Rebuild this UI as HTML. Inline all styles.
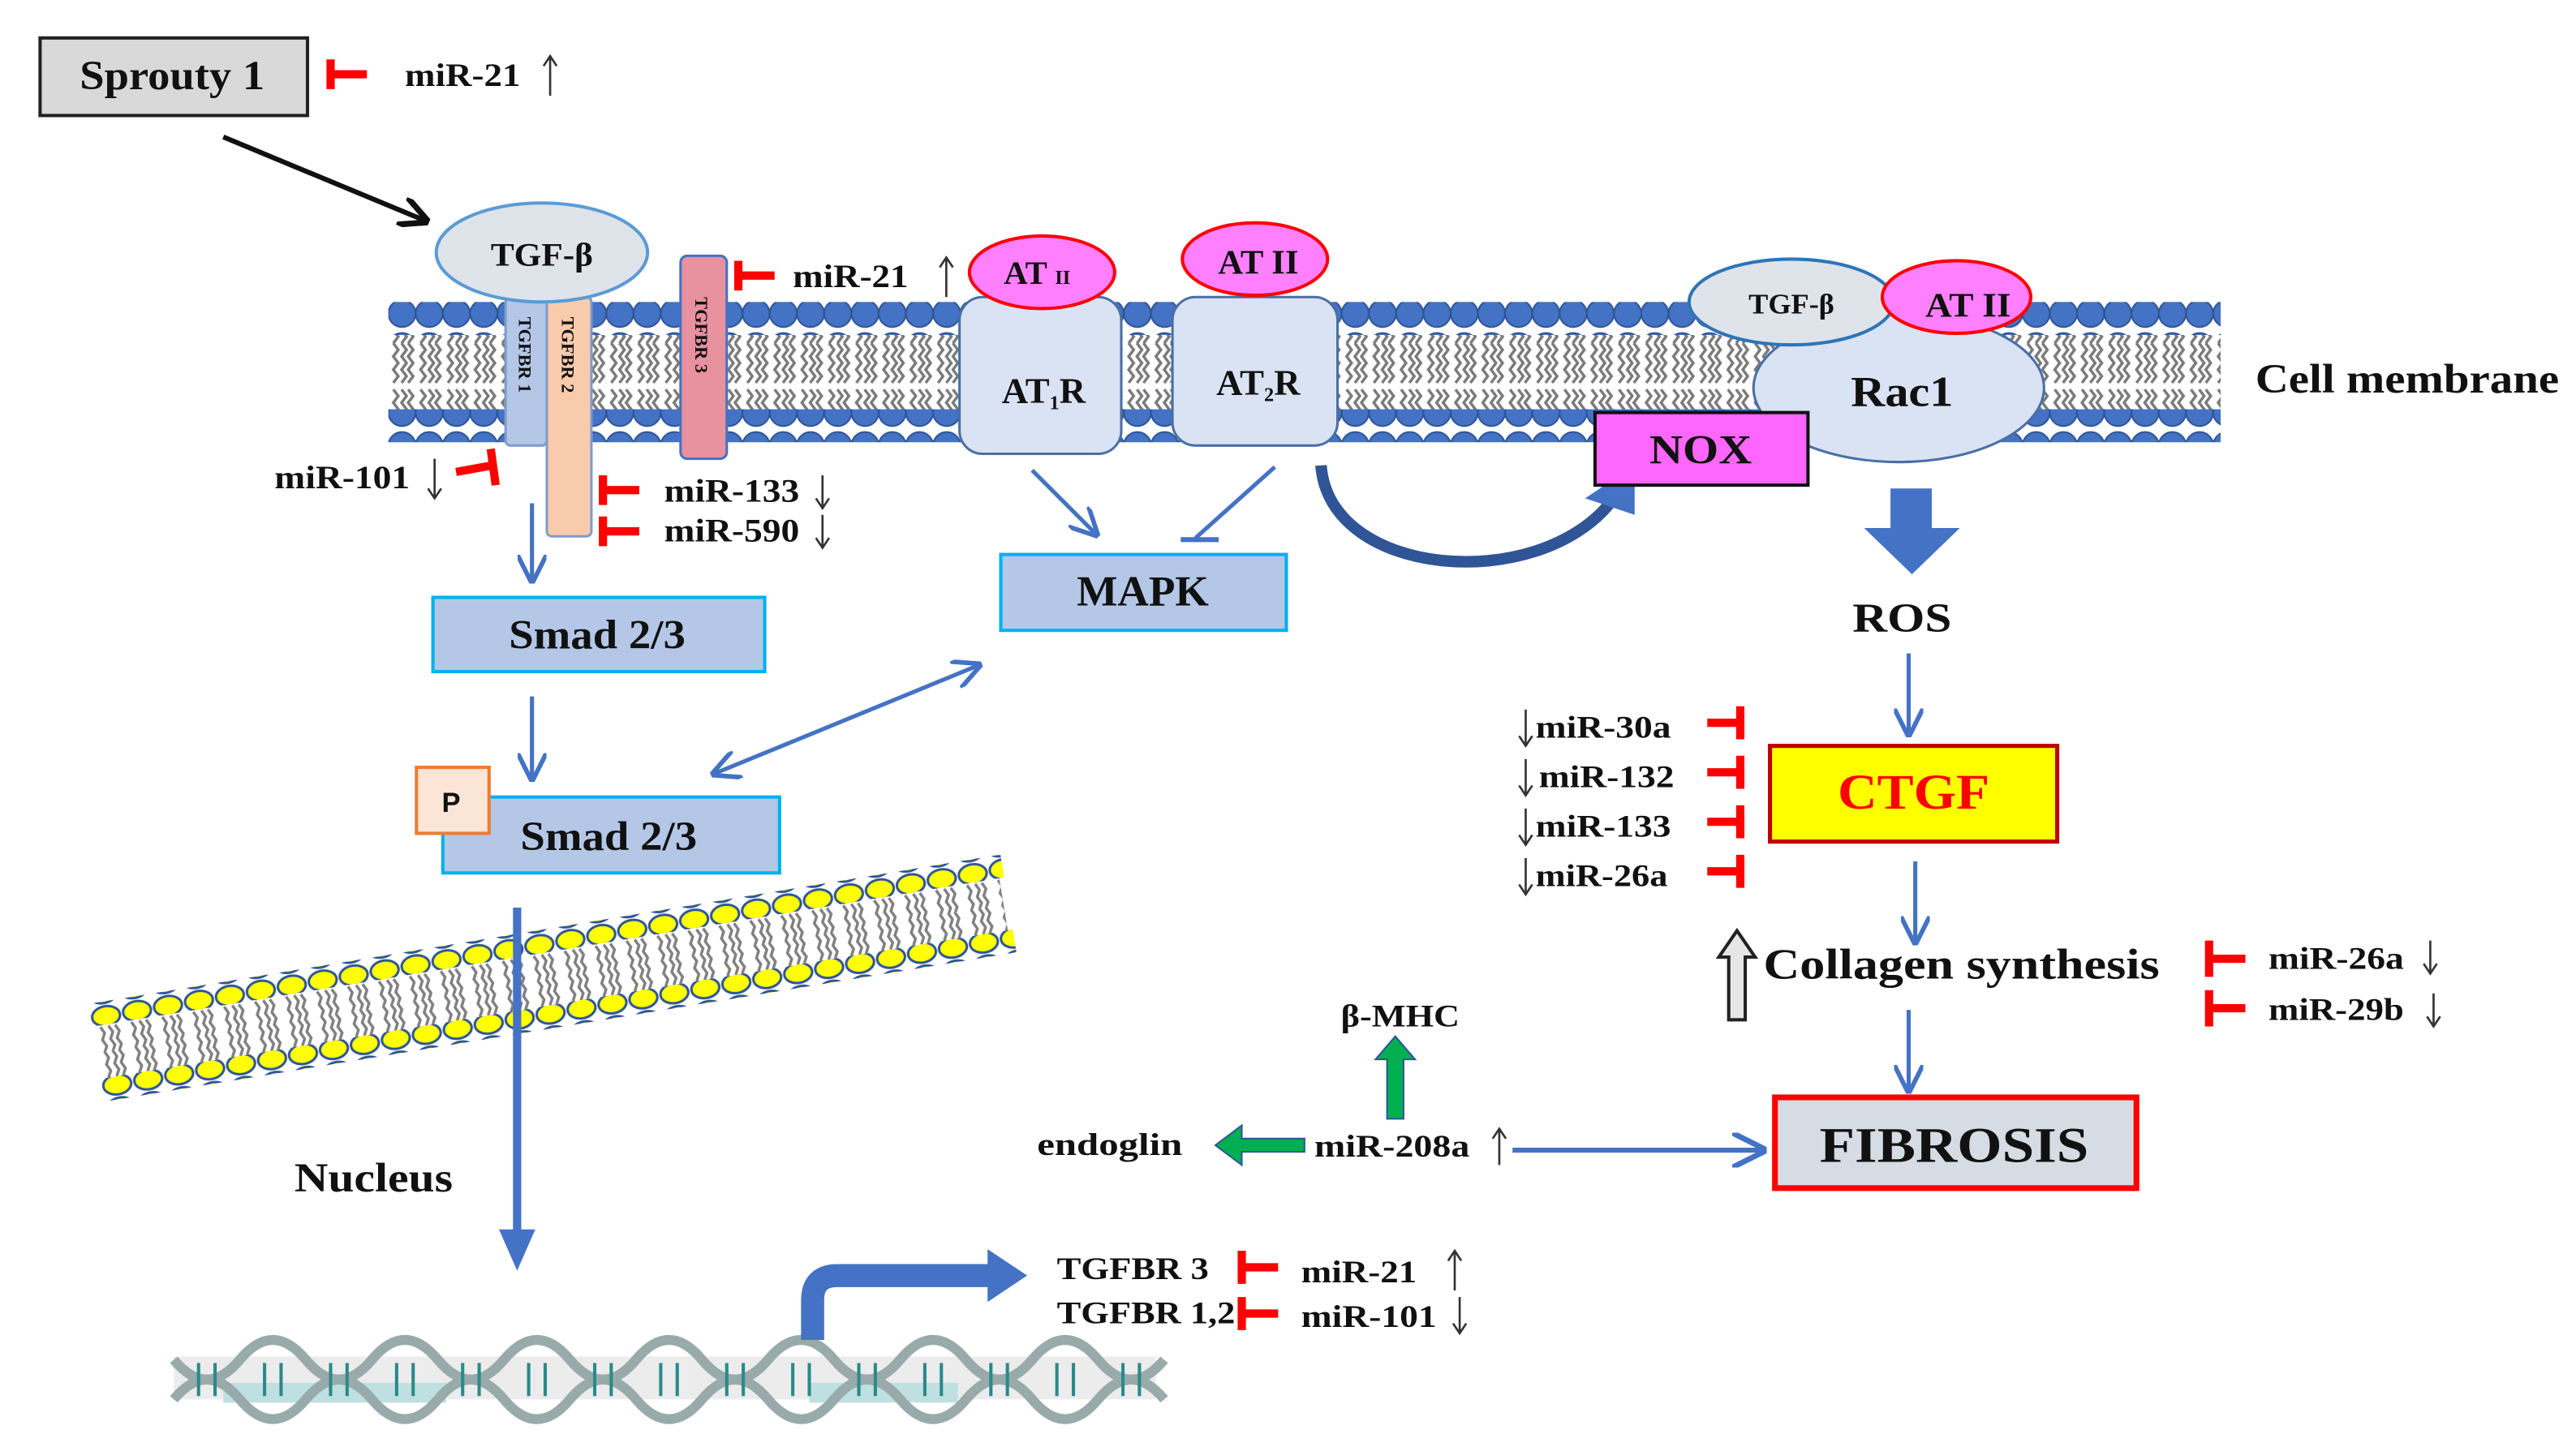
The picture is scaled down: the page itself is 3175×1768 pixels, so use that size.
<!DOCTYPE html>
<html><head><meta charset="utf-8">
<style>
html,body{margin:0;padding:0;background:#fff;}
svg{display:block;}
text{font-family:"Liberation Serif",serif;font-weight:bold;fill:#111;}
</style></head>
<body>
<svg width="3175" height="1768" viewBox="0 0 1560 869" xmlns="http://www.w3.org/2000/svg">
<defs>
<pattern id="heads" x="235" y="0" width="16.5" height="20" patternUnits="userSpaceOnUse">
<circle cx="8.25" cy="10" r="8.2" fill="#4472c4" stroke="#2f5597" stroke-width="1"/>
</pattern>
<pattern id="tails" x="235" y="0" width="16.5" height="52" patternUnits="userSpaceOnUse">
<path d="M3 0 l3 4 -3 4 3 4 -3 4 3 4 -3 4 M8 0 l3 4 -3 4 3 4 -3 4 3 4 -3 4 M12 0 l3 4 -3 4 3 4 -3 4 3 4 -3 4 M3 28 l3 4 -3 4 3 4 -3 4 3 4 -3 4 M8 28 l3 4 -3 4 3 4 -3 4 3 4 -3 4 M12 28 l3 4 -3 4 3 4 -3 4 3 4 -3 4" fill="none" stroke="#7a7a7a" stroke-width="1.7"/>
</pattern>
<pattern id="yheads" x="0" y="0" width="19" height="14" patternUnits="userSpaceOnUse">
<ellipse cx="9.5" cy="7" rx="8.5" ry="6" fill="#ffff00" stroke="#2f5597" stroke-width="1.5"/>
</pattern>
<pattern id="ytails" x="0" y="0" width="19" height="32" patternUnits="userSpaceOnUse">
<path d="M5 0 l2 4 -2 4 2 4 -2 4 M10 0 l2 4 -2 4 2 4 -2 4 M14 0 l2 4 -2 4 2 4 -2 4 M5 17 l2 4 -2 4 2 4 -2 4 M10 17 l2 4 -2 4 2 4 -2 4 M14 17 l2 4 -2 4 2 4 -2 4" fill="none" stroke="#808080" stroke-width="1.7"/>
</pattern>
<marker id="ab" viewBox="0 0 10 10" refX="9" refY="5" markerWidth="7" markerHeight="7" orient="auto-start-reverse"><path d="M0 0 L10 5 L0 10" fill="none" stroke="#4472c4" stroke-width="1.6"/></marker>
<marker id="ak" viewBox="0 0 10 10" refX="9" refY="5" markerWidth="6" markerHeight="6" orient="auto"><path d="M0 0 L10 5 L0 10" fill="none" stroke="#111" stroke-width="2"/></marker>
</defs>

<!-- Sprouty -->
<rect x="24" y="23" width="162" height="47" fill="#d9d9d9" stroke="#222" stroke-width="2"/>
<text x="48" y="54" font-size="25" textLength="112" lengthAdjust="spacingAndGlyphs">Sprouty 1</text>
<path d="M200 36 v18 M200 45 h22" stroke="#f00" stroke-width="5"/>
<text x="245" y="52" font-size="20" textLength="70" lengthAdjust="spacingAndGlyphs">miR-21</text>
<path d="M333 58 V34 M329 40 l4 -6 4 6" stroke="#333" stroke-width="1.3" fill="none"/>
<line x1="135" y1="83" x2="258" y2="134" stroke="#111" stroke-width="3" marker-end="url(#ak)"/>

<!-- membrane -->
<rect x="235" y="203" width="1110" height="50" fill="url(#tails)"/>
<rect x="235" y="183" width="1110" height="20" fill="url(#heads)"/>
<rect x="235" y="248" width="1110" height="20" fill="url(#heads)"/>
<text x="1366" y="238" font-size="25" textLength="184" lengthAdjust="spacingAndGlyphs">Cell membrane</text>

<!-- TGF-beta receptors -->
<rect x="306" y="180" width="25" height="90" rx="3" fill="#b4c7e7" stroke="#7f9ccc" stroke-width="1.5"/>
<rect x="331" y="180" width="27" height="145" rx="3" fill="#f8cbad" stroke="#7f9ccc" stroke-width="1.5"/>
<rect x="412" y="155" width="28" height="123" rx="4" fill="#e8919f" stroke="#4472c4" stroke-width="1.5"/>
<text transform="translate(314,192) rotate(90)" font-size="11">TGFBR 1</text>
<text transform="translate(340,192) rotate(90)" font-size="11">TGFBR 2</text>
<text transform="translate(421,180) rotate(90)" font-size="11">TGFBR 3</text>
<ellipse cx="328" cy="153" rx="64" ry="30" fill="#dfe3ea" stroke="#5b9bd5" stroke-width="2"/>
<text x="328" y="161" font-size="20" text-anchor="middle" textLength="62" lengthAdjust="spacingAndGlyphs">TGF-β</text>

<path d="M447 158 v18 M447 167 h22" stroke="#f00" stroke-width="5"/>
<text x="480" y="174" font-size="20" textLength="70" lengthAdjust="spacingAndGlyphs">miR-21</text>
<path d="M573 180 V156 M569 162 l4 -6 4 6" stroke="#333" stroke-width="1.3" fill="none"/>

<text x="166" y="296" font-size="20" textLength="82" lengthAdjust="spacingAndGlyphs">miR-101</text>
<path d="M263 302 V278 M259 296 l4 6 4 -6" stroke="#333" stroke-width="1.3" fill="none"/>
<path d="M276 286 l22 -4 M297 272 l3 22" stroke="#f00" stroke-width="5"/>

<path d="M365 288 v18 M365 297 h22" stroke="#f00" stroke-width="5"/>
<path d="M365 313 v18 M365 322 h22" stroke="#f00" stroke-width="5"/>
<text x="402" y="304" font-size="20" textLength="82" lengthAdjust="spacingAndGlyphs">miR-133</text>
<text x="402" y="328" font-size="20" textLength="82" lengthAdjust="spacingAndGlyphs">miR-590</text>
<path d="M498 308 V288 M494 302 l4 6 4 -6 M498 332 V312 M494 326 l4 6 4 -6" stroke="#333" stroke-width="1.3" fill="none"/>

<line x1="322" y1="305" x2="322" y2="352" stroke="#4472c4" stroke-width="2.5" marker-end="url(#ab)"/>
<rect x="262" y="362" width="201" height="45" fill="#b4c7e7" stroke="#00b0f0" stroke-width="2"/>
<text x="308" y="393" font-size="25" textLength="107" lengthAdjust="spacingAndGlyphs">Smad 2/3</text>
<line x1="322" y1="422" x2="322" y2="472" stroke="#4472c4" stroke-width="2.5" marker-end="url(#ab)"/>
<rect x="268" y="483" width="204" height="46" fill="#b4c7e7" stroke="#00b0f0" stroke-width="2"/>
<rect x="252" y="465" width="44" height="40" fill="#fbe5d6" stroke="#ed7d31" stroke-width="2"/>
<text x="273" y="492" font-size="17" text-anchor="middle" style="font-family:'Liberation Sans',sans-serif">P</text>
<text x="315" y="515" font-size="25" textLength="107" lengthAdjust="spacingAndGlyphs">Smad 2/3</text>
<line x1="432" y1="469" x2="593" y2="403" stroke="#4472c4" stroke-width="2.5" marker-start="url(#ab)" marker-end="url(#ab)"/>

<!-- AT receptors -->
<rect x="581" y="180" width="98" height="95" rx="14" fill="#dae3f3" stroke="#4a6fa5" stroke-width="1.5"/>
<rect x="710" y="180" width="100" height="90" rx="14" fill="#dae3f3" stroke="#4a6fa5" stroke-width="1.5"/>
<ellipse cx="631" cy="165" rx="44" ry="22" fill="#ff80ff" stroke="#f00" stroke-width="2"/>
<ellipse cx="760" cy="157" rx="44" ry="22" fill="#ff80ff" stroke="#f00" stroke-width="2"/>
<text x="628" y="172" font-size="20" text-anchor="middle">AT <tspan font-size="12">II</tspan></text>
<text x="762" y="166" font-size="21" text-anchor="middle">AT II</text>
<text x="632" y="244" font-size="22" text-anchor="middle">AT<tspan font-size="12" dy="4">1</tspan><tspan dy="-4">R</tspan></text>
<text x="762" y="239" font-size="22" text-anchor="middle">AT<tspan font-size="12" dy="4">2</tspan><tspan dy="-4">R</tspan></text>
<line x1="625" y1="285" x2="664" y2="324" stroke="#4472c4" stroke-width="2.5" marker-end="url(#ab)"/>
<line x1="772" y1="283" x2="724" y2="326" stroke="#4472c4" stroke-width="2.5"/>
<line x1="715" y1="327" x2="738" y2="327" stroke="#4472c4" stroke-width="3"/>
<rect x="606" y="336" width="173" height="46" fill="#b4c7e7" stroke="#00b0f0" stroke-width="2"/>
<text x="652" y="367" font-size="26" textLength="80" lengthAdjust="spacingAndGlyphs">MAPK</text>

<!-- curved arrow to NOX -->
<path d="M800 282 C805 350 930 360 975 305" fill="none" stroke="#2f5597" stroke-width="7"/>
<path d="M960 302 L990 282 L990 312 Z" fill="#4472c4"/>

<!-- Rac1 complex -->
<ellipse cx="1150" cy="235" rx="88" ry="45" fill="#dae3f3" stroke="#4a6fa5" stroke-width="1.5"/>
<ellipse cx="1085" cy="183" rx="62" ry="26" fill="#dfe3ea" stroke="#2e75b6" stroke-width="2"/>
<ellipse cx="1185" cy="180" rx="45" ry="22" fill="#ff80ff" stroke="#f00" stroke-width="2"/>
<text x="1085" y="190" font-size="17" text-anchor="middle" textLength="52" lengthAdjust="spacingAndGlyphs">TGF-β</text>
<text x="1192" y="192" font-size="21" text-anchor="middle" textLength="52" lengthAdjust="spacingAndGlyphs">AT II</text>
<text x="1152" y="246" font-size="26" text-anchor="middle" textLength="62" lengthAdjust="spacingAndGlyphs">Rac1</text>
<rect x="966" y="250" width="129" height="44" fill="#ff66ff" stroke="#111" stroke-width="2"/>
<text x="1030" y="281" font-size="25" text-anchor="middle" font-weight="normal" textLength="62" lengthAdjust="spacingAndGlyphs">NOX</text>

<path d="M1145 296 h25 v24 h17 l-29 28 l-29 -28 h16 z" fill="#4472c4"/>
<text x="1152" y="383" font-size="25" text-anchor="middle" textLength="60" lengthAdjust="spacingAndGlyphs">ROS</text>
<line x1="1156" y1="396" x2="1156" y2="445" stroke="#4472c4" stroke-width="2.5" marker-end="url(#ab)"/>

<rect x="1072" y="452" width="174" height="58" fill="#ffff00" stroke="#c00000" stroke-width="2.5"/>
<text x="1159" y="490" font-size="30" text-anchor="middle" style="fill:#f00" textLength="92" lengthAdjust="spacingAndGlyphs">CTGF</text>

<g font-size="19">
<text x="930" y="447" textLength="82" lengthAdjust="spacingAndGlyphs">miR-30a</text>
<text x="932" y="477" textLength="82" lengthAdjust="spacingAndGlyphs">miR-132</text>
<text x="930" y="507" textLength="82" lengthAdjust="spacingAndGlyphs">miR-133</text>
<text x="930" y="537" textLength="80" lengthAdjust="spacingAndGlyphs">miR-26a</text>
</g>
<path d="M924 452 V430 M920 446 l4 6 4 -6 M924 482 V460 M920 476 l4 6 4 -6 M924 512 V490 M920 506 l4 6 4 -6 M924 542 V520 M920 536 l4 6 4 -6" stroke="#333" stroke-width="1.3" fill="none"/>
<path d="M1054 428 v20 M1054 438 h-20 M1054 458 v20 M1054 468 h-20 M1054 488 v20 M1054 498 h-20 M1054 518 v20 M1054 528 h-20" stroke="#f00" stroke-width="5"/>

<line x1="1160" y1="522" x2="1160" y2="571" stroke="#4472c4" stroke-width="2.5" marker-end="url(#ab)"/>
<path d="M1047 618 v-38 h-6 l11 -16 l11 16 h-6 v38 z" fill="#e6e6e6" stroke="#222" stroke-width="2"/>
<text x="1068" y="593" font-size="26" textLength="240" lengthAdjust="spacingAndGlyphs">Collagen synthesis</text>
<path d="M1338 570 v22 M1338 581 h22 M1338 600 v22 M1338 611 h22" stroke="#f00" stroke-width="5"/>
<text x="1374" y="587" font-size="19" textLength="82" lengthAdjust="spacingAndGlyphs">miR-26a</text>
<text x="1374" y="618" font-size="19" textLength="82" lengthAdjust="spacingAndGlyphs">miR-29b</text>
<path d="M1472 590 V570 M1468 584 l4 6 4 -6 M1474 622 V602 M1470 616 l4 6 4 -6" stroke="#333" stroke-width="1.3" fill="none"/>
<line x1="1156" y1="612" x2="1156" y2="661" stroke="#4472c4" stroke-width="2.5" marker-end="url(#ab)"/>

<rect x="1075" y="665" width="219" height="55" fill="#d6dce4" stroke="#f00" stroke-width="3.5"/>
<text x="1102" y="704" font-size="30" textLength="163" lengthAdjust="spacingAndGlyphs">FIBROSIS</text>

<!-- miR-208a -->
<text x="848" y="622" font-size="19" text-anchor="middle" textLength="72" lengthAdjust="spacingAndGlyphs">β-MHC</text>
<path d="M840 678 v-36 h-7 l12 -14 l12 14 h-7 v36 z" fill="#00b050" stroke="#2f5597" stroke-width="1"/>
<text x="628" y="700" font-size="19" textLength="88" lengthAdjust="spacingAndGlyphs">endoglin</text>
<path d="M790 690 h-38 v-8 l-16 12 l16 12 v-8 h38 z" fill="#00b050" stroke="#2f5597" stroke-width="1"/>
<text x="796" y="701" font-size="19" textLength="94" lengthAdjust="spacingAndGlyphs">miR-208a</text>
<path d="M908 706 V684 M904 690 l4 -6 4 6" stroke="#333" stroke-width="1.3" fill="none"/>
<line x1="916" y1="697" x2="1068" y2="697" stroke="#4472c4" stroke-width="3" marker-end="url(#ab)"/>

<!-- nucleus membrane -->
<g transform="translate(58,638) rotate(-9.3)">
<rect x="2" y="-17" width="555" height="34" fill="url(#ytails)"/>
<rect x="0" y="-30" width="560" height="14" fill="url(#yheads)"/>
<rect x="0" y="16" width="560" height="14" fill="url(#yheads)"/>
</g>
<line x1="313" y1="550" x2="313" y2="748" stroke="#4472c4" stroke-width="5"/>
<path d="M302 745 L324 745 L313 770 Z" fill="#4472c4"/>
<text x="178" y="722" font-size="25" textLength="96" lengthAdjust="spacingAndGlyphs">Nucleus</text>

<!-- DNA -->
<rect x="105" y="822" width="595" height="26" fill="#ececec"/>
<rect x="135" y="838" width="135" height="12" fill="#bfe0e0"/>
<rect x="490" y="838" width="90" height="12" fill="#bfe0e0"/>
<path d="M105 824 q20 24 40 0 t40 0 t40 0 t40 0 t40 0 t40 0 t40 0 t40 0 t40 0 t40 0 t40 0 t40 0 t40 0 t40 0 t40 0" fill="none" stroke="#9aa" stroke-width="6"/>
<path d="M105 848 q20 -24 40 0 t40 0 t40 0 t40 0 t40 0 t40 0 t40 0 t40 0 t40 0 t40 0 t40 0 t40 0 t40 0 t40 0 t40 0" fill="none" stroke="#9aa" stroke-width="6"/>
<path d="M120 826 v20 M130 826 v20 M160 826 v20 M170 826 v20 M200 826 v20 M210 826 v20 M240 826 v20 M250 826 v20 M280 826 v20 M290 826 v20 M320 826 v20 M330 826 v20 M360 826 v20 M370 826 v20 M400 826 v20 M410 826 v20 M440 826 v20 M450 826 v20 M480 826 v20 M490 826 v20 M520 826 v20 M530 826 v20 M560 826 v20 M570 826 v20 M600 826 v20 M610 826 v20 M640 826 v20 M650 826 v20 M680 826 v20 M690 826 v20" stroke="#2a8a8a" stroke-width="2"/>

<path d="M492 812 V788 q0 -15 15 -15 H600" fill="none" stroke="#4472c4" stroke-width="14"/>
<path d="M598 757 L622 773 L598 789 Z" fill="#4472c4"/>
<text x="640" y="775" font-size="19" textLength="92" lengthAdjust="spacingAndGlyphs">TGFBR 3</text>
<text x="640" y="802" font-size="19" textLength="108" lengthAdjust="spacingAndGlyphs">TGFBR 1,2</text>
<path d="M752 758 v20 M752 768 h22 M752 786 v20 M752 796 h22" stroke="#f00" stroke-width="5"/>
<text x="788" y="777" font-size="19" textLength="70" lengthAdjust="spacingAndGlyphs">miR-21</text>
<text x="788" y="804" font-size="19" textLength="82" lengthAdjust="spacingAndGlyphs">miR-101</text>
<path d="M881 782 V758 M877 764 l4 -6 4 6 M884 808 V786 M880 802 l4 6 4 -6" stroke="#333" stroke-width="1.3" fill="none"/>
</svg>
</body></html>
